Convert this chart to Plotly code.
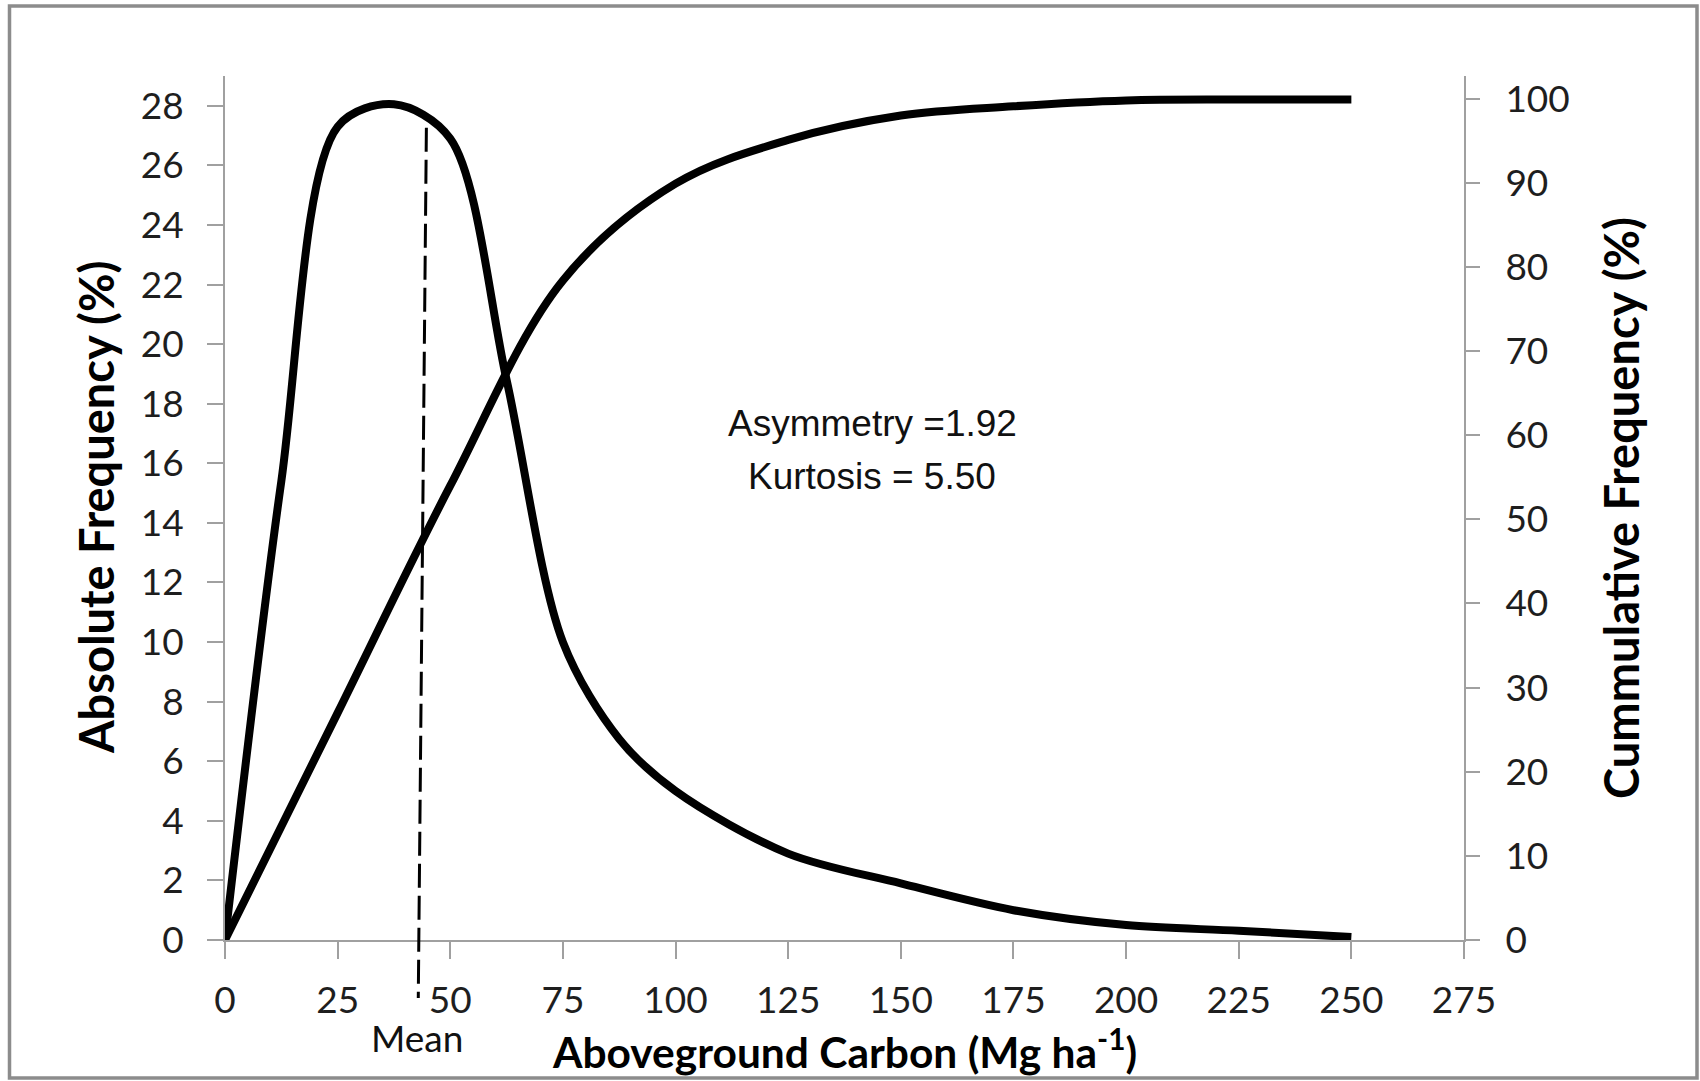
import plotly.graph_objects as go

# ---------------- data ----------------
abs_carbon = [0, 12.5, 25, 37.5, 50, 62.5, 75, 87.5, 100, 125, 150, 175, 200, 225, 250]
absolute_freq = [0, 15.4, 27.3, 28.05, 26.9, 18.8, 10.0, 6.75, 5.0, 2.9, 1.9, 1.0, 0.5, 0.31, 0.1]

cum_carbon = [0, 25, 50, 75, 100, 125, 150, 175, 200, 225, 250]
cumulative_freq = [0, 27.0, 54.0, 78.4, 89.9, 95.1, 98.0, 99.1, 99.8, 99.9, 99.9]

x_ticks = [0, 25, 50, 75, 100, 125, 150, 175, 200, 225, 250, 275]
left_ticks = list(range(0, 30, 2))
right_ticks = list(range(0, 101, 10))

mean_line_x = [44.7, 42.9]      # slightly slanted hand-drawn marker
mean_line_y = [27.26, -1.95]    # in left-axis units
mean_label_x = 42.6

stats_x = 143.7
asym_text = "Asymmetry =1.92"
kurt_text = "Kurtosis = 5.50"
asym_y = 17.35
kurt_y = 15.55

X_MAX = 275
Y_MAX = 29.0
Y2_MAX = 102.7

# ---------------- layout constants ----------------
W, H = 1700, 1081
ML, MR, MT, MB = 225, 236, 76, 141
PW = W - ML - MR
PH = H - MT - MB

AXIS_GRAY = "#a0a0a0"
TICK_FONT = dict(family="Lato", size=37, color="#1e1e1e")
YTITLE_FONT = dict(family="Lato", size=47, color="#000000", weight="bold")
XTITLE_FONT = dict(family="Lato", size=42.5, color="#000000", weight="bold")


def px_to_paper_x(px):
    return (px - ML) / PW


def px_to_paper_y(py):
    return (H - MB - py) / PH


fig = go.Figure()

fig.add_trace(go.Scatter(
    x=abs_carbon, y=absolute_freq, mode="lines",
    line=dict(color="black", width=8, shape="spline", smoothing=0.9),
    yaxis="y", showlegend=False, hoverinfo="skip"))

fig.add_trace(go.Scatter(
    x=cum_carbon, y=cumulative_freq, mode="lines",
    line=dict(color="black", width=8, shape="spline", smoothing=1),
    yaxis="y2", showlegend=False, hoverinfo="skip"))

shapes = [
    # mean dashed line (x in data units, y converted from left axis to paper)
    dict(type="line", xref="x", yref="paper",
         x0=mean_line_x[0], y0=mean_line_y[0] / Y_MAX,
         x1=mean_line_x[1], y1=mean_line_y[1] / Y_MAX,
         line=dict(color="black", width=3, dash="24px,8px")),
    # outer frame
    dict(type="rect", xref="paper", yref="paper",
         x0=px_to_paper_x(9.5), x1=px_to_paper_x(1697),
         y0=px_to_paper_y(1078), y1=px_to_paper_y(6),
         line=dict(color="#8c8c8c", width=3.5), fillcolor="rgba(0,0,0,0)",
         layer="below"),
]

annotations = [
    dict(text=asym_text, x=stats_x, y=asym_y, xref="x", yref="y",
         showarrow=False, xanchor="center", yanchor="middle",
         font=dict(family="Liberation Sans", size=37, color="#111111")),
    dict(text=kurt_text, x=stats_x, y=kurt_y, xref="x", yref="y",
         showarrow=False, xanchor="center", yanchor="middle",
         font=dict(family="Liberation Sans", size=37, color="#111111")),
    dict(text="Mean", x=mean_label_x, y=0, xref="x", yref="paper",
         yshift=-97, showarrow=False, xanchor="center", yanchor="middle",
         font=dict(family="Lato", size=37, color="#111111")),
    dict(text="Absolute Frequency (%)", x=0, y=0.5, xref="paper", yref="paper",
         xshift=96 - ML, textangle=-90, showarrow=False,
         xanchor="center", yanchor="middle", font=YTITLE_FONT),
    dict(text="Cummulative Frequency (%)", x=1, y=0.5, xref="paper", yref="paper",
         xshift=1621 - (W - MR), textangle=-90, showarrow=False,
         xanchor="center", yanchor="middle", font=YTITLE_FONT),
    dict(text="Aboveground Carbon (Mg ha<sup>-1</sup>)", x=0.5, y=0,
         xref="paper", yref="paper", yshift=-(1049 - (H - MB)),
         showarrow=False, xanchor="center", yanchor="middle", font=XTITLE_FONT),
]

fig.update_layout(
    width=W, height=H,
    margin=dict(l=ML, r=MR, t=MT, b=MB, pad=0),
    paper_bgcolor="white", plot_bgcolor="white",
    showlegend=False,
    shapes=shapes,
    annotations=annotations,
    xaxis=dict(
        range=[0, X_MAX], tickmode="array", tickvals=x_ticks,
        showgrid=False, zeroline=False,
        showline=True, linecolor=AXIS_GRAY, linewidth=2,
        ticks="outside", ticklen=17, tickwidth=2, tickcolor=AXIS_GRAY,
        tickfont=TICK_FONT, ticklabelstandoff=10,
    ),
    yaxis=dict(
        range=[0, Y_MAX], tickmode="array", tickvals=left_ticks,
        showgrid=False, zeroline=False,
        showline=True, linecolor=AXIS_GRAY, linewidth=2,
        ticks="outside", ticklen=16, tickwidth=2, tickcolor=AXIS_GRAY,
        tickfont=TICK_FONT, ticklabelstandoff=16,
    ),
    yaxis2=dict(
        range=[0, Y2_MAX], tickmode="array", tickvals=right_ticks,
        overlaying="y", side="right",
        showgrid=False, zeroline=False,
        showline=True, linecolor=AXIS_GRAY, linewidth=2,
        ticks="outside", ticklen=14, tickwidth=2, tickcolor=AXIS_GRAY,
        tickfont=TICK_FONT, ticklabelstandoff=18,
    ),
)

fig.write_html("out.html")
